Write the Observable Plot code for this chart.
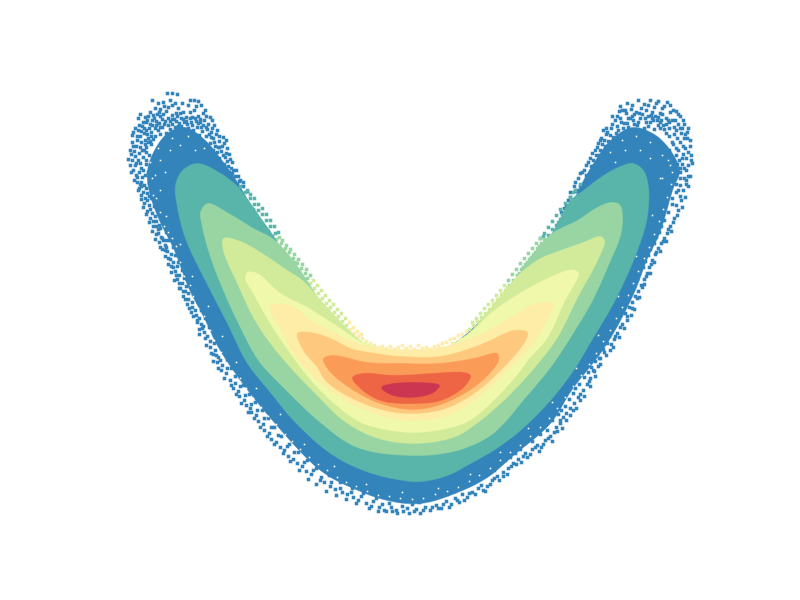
<!DOCTYPE html>
<html><head><meta charset="utf-8">
<style>html,body{margin:0;padding:0;background:#fff}svg{display:block}</style>
<script src="https://cdn.jsdelivr.net/npm/d3@7"></script>
<script src="https://cdn.jsdelivr.net/npm/@observablehq/plot@0.6"></script>
</head><body><div id="chart"></div>
<script>
const levelColors=["#3484bc","#59b4a9","#98d5a3","#d2eb9a","#f0f8ab","#fdeda6","#fec87e","#fa9c58","#ee6545","#cc3650"];
const band0=[147,170,154,150,168,132,185,127,205,140,220,158,232,174,243,192,262,226,305,288,350,340,400,356,450,345,505,292,552,234,572,202,583,180,595,160,610,140,632,127,654,134,670,150,679,170,672,190,659,233,646,260,636,287,620,320,602,350,571,390,550,423,513,455,487,477,457,492,420,503,387,500,353,488,320,470,272,420,240,380,218,347,205,320,188,287,174,250,159,220,149,192];
const band1=[197,163,217,171,235,184,248,200,262,220,272,234,305,288,350,338,400,356,452,346,505,295,552,232,570,200,583,190,603,175,620,166,633,163,643,170,648,187,648,205,645,225,633,260,613,303,593,337,573,370,550,400,520,430,493,450,470,463,447,475,420,481,397,479,363,470,330,453,293,420,270,392,247,363,227,323,210,290,190,250,183,232,177,207,175,185,182,170];
const band2=[207,203,230,214,253,228,272,238,288,254,302,273,325,308,348,333,368,347,400,356,432,354,452,346,470,336,490,314,511,286,523,268,537,248,553,232,577,220,595,208,610,202,619,204,622,215,620,235,610,260,592,300,570,337,550,367,520,403,506,420,490,435,457,450,413,455,357,447,320,422,283,387,258,360,240,327,220,283,208,250,201,222,200,212];
const band3=[223,238,240,241,257,250,287,270,302,280,325,305,348,329,362,341,400,354,432,352,455,342,470,331,488,310,511,282,523,270,540,258,560,250,580,243,600,236,604,240,597,260,577,297,557,337,540,360,520,383,500,403,480,420,455,436,413,443,375,437,343,420,315,393,290,367,270,343,253,317,237,283,223,250];
const band4=[247,272,257,273,280,293,307,307,323,317,343,330,360,341,400,352,440,349,470,332,490,313,513,297,537,283,567,270,575,270,578,273,563,303,547,337,527,360,520,370,495,398,469,420,446,428,413,432,380,428,357,420,320,390,290,353,270,323,253,293,245,278];
const band5=[270,305,290,305,313,322,330,330,347,339,370,346,400,349,440,347,470,338,490,329,510,317,537,303,553,303,550,313,533,343,510,367,480,395,446,415,413,420,380,415,345,400,315,378,293,353,280,328,272,315];
const band6=[297,333,310,332,330,338,350,348,375,353,400,356,440,356,470,348,490,340,513,330,527,332,525,340,507,363,500,370,475,392,445,408,413,413,385,410,350,397,325,380,317,367,303,350];
const band7=[323,358,333,355,367,362,400,363,440,363,473,358,497,353,498,360,490,372,473,387,443,403,413,409,377,402,343,383,327,368];
const band8=[352,377,363,373,393,375,433,373,463,372,470,375,463,387,440,400,410,403,380,400,360,388];
const band9=[381,387,393,383,433,383,439,385,433,392,410,397,390,394];
const blueDots=[
167,93,172,93,177,94,152,100,158,103,163,102,170,100,190,100,194,100,198,101,172,105,188,105,201,105,155,108,140,114,145,117,138,118,153,115,203,113,210,117,133,132,138,130,132,135,132,142,128,159,130,165,
160,109,166,111,178,108,183,112,194,110,150,112,157,114,172,115,186,117,198,116,146,122,152,120,162,119,168,118,176,121,191,122,204,120,142,126,149,128,156,125,164,124,181,126,187,124,197,127,208,124,214,125,137,136,144,133,151,132,158,130,170,129,177,131,193,130,202,131,211,132,217,130,136,146,141,142,148,138,155,136,213,138,219,141,206,136,224,143,134,151,139,153,146,147,151,144,215,146,227,148,221,151,133,170,138,160,143,157,149,155,131,154,225,157,230,159,213,150,228,166,233,170,219,158,136,175,141,168,146,164,137,182,142,177,148,172,152,179,235,176,239,181,229,172,243,186,247,191,
165,121,172,124,183,119,192,125,200,122,145,140,160,134,174,132,199,135,210,143,142,150,136,163,145,175,150,167,141,186,
139,188,144,185,149,183,153,189,141,195,147,193,151,198,155,191,144,203,149,205,154,200,147,211,152,213,157,207,163,206,150,218,156,221,160,215,164,212,153,226,158,229,163,224,169,228,156,234,161,237,166,232,171,231,159,242,165,245,169,240,175,239,162,249,167,251,173,247,178,244,
165,256,170,259,175,255,180,253,168,264,173,267,178,262,184,260,171,272,176,275,182,270,187,268,174,280,179,283,184,278,190,276,180,288,185,291,191,286,194,283,183,296,188,299,193,294,198,291,187,304,192,307,198,302,202,299,191,312,196,315,201,310,206,307,197,320,201,324,205,318,210,315,199,329,204,332,209,327,213,324,205,338,210,341,214,335,218,331,210,347,215,350,219,344,224,340,
213,354,218,357,223,352,227,349,217,362,222,365,227,360,232,356,221,370,226,373,231,368,236,364,230,380,235,383,240,377,244,372,233,388,238,391,243,385,248,383,239,396,244,400,249,394,254,390,246,405,250,408,255,402,260,398,251,412,256,415,262,410,266,406,258,421,263,424,268,418,273,415,264,430,269,433,274,427,279,423,271,439,276,442,281,436,286,432,280,447,284,450,289,444,294,440,
288,456,293,459,298,452,303,449,297,463,302,466,307,460,312,456,306,471,311,474,316,468,321,464,320,480,324,482,329,475,334,470,330,486,335,489,340,482,345,478,342,492,347,494,352,488,357,484,353,497,358,500,363,493,368,489,366,503,371,506,376,498,381,495,379,507,384,510,389,503,394,498,392,511,397,513,402,506,407,500,409,513,414,511,420,513,425,507,412,504,419,502,430,510,436,505,441,508,446,501,427,499,434,498,451,504,457,500,462,494,447,494,454,491,467,497,472,492,478,488,464,486,470,483,483,490,487,486,492,480,480,476,476,480,497,476,503,472,508,468,494,470,499,464,513,463,518,459,510,457,505,460,523,456,527,457,532,449,520,449,515,453,
537,445,541,447,545,440,532,441,550,436,554,432,547,430,540,434,560,423,556,427,552,420,563,417,566,413,558,414,570,408,574,403,565,406,561,410,578,397,583,390,573,393,569,399,587,384,590,378,579,384,575,388,594,371,598,366,588,372,584,377,600,358,604,352,595,361,591,367,610,350,607,343,601,347,597,354,614,339,617,333,609,336,605,341,620,327,627,320,616,323,611,329,625,313,629,307,620,313,617,318,632,302,635,296,626,302,622,307,638,291,642,287,631,291,628,296,644,279,647,273,637,279,633,285,649,267,652,260,643,267,639,273,655,254,658,248,648,255,645,261,661,243,664,238,654,243,650,249,667,233,670,226,659,232,656,237,
674,218,678,210,664,220,661,226,672,204,681,200,668,212,665,206,683,190,686,184,676,192,672,198,688,176,692,163,680,178,676,184,691,155,690,146,684,168,680,172,690,140,687,132,683,154,679,160,683,120,678,114,680,128,674,134,667,102,673,110,662,108,666,118,650,100,656,103,660,113,652,112,644,104,638,100,646,110,636,112,627,103,631,109,622,110,640,118,628,118,650,122,658,125,669,128,672,142,669,150,676,148,617,116,624,123,634,124,644,128,612,124,618,130,626,132,606,128,610,135,603,130,615,140,600,140,605,146,597,147,592,153,599,155,588,162,593,166,584,170,580,173,575,182,580,186,570,197,575,191,566,205,561,212,
164,106,175,103,182,103,159,112,147,120,168,107,180,113,176,113,190,112,196,106,205,110,192,117,200,119,181,118,148,116,154,118,160,116,143,122,139,125,135,128,163,114,170,121,177,116,186,121,206,116,212,120,158,123,152,125,146,130,141,131,137,140,133,146,130,150,135,156,132,160,140,136,144,128,151,136,156,121,162,127,168,125,174,119,179,123,196,121,201,127,207,129,212,128,216,134,219,136,223,137,226,140,222,146,226,153,229,154,232,162,224,164,218,147,231,168,236,170,238,176,240,180,243,182,135,165,131,172,134,180,139,172,137,177,141,182,143,170,146,160,140,163,144,150,148,142,
620,106,625,110,632,105,641,108,648,105,654,107,658,101,664,106,670,105,676,111,680,116,684,124,687,138,688,128,634,114,642,114,655,116,662,114,670,112,675,120,668,120,661,120,648,116,615,120,620,118,611,128,606,134,601,138,598,143,595,150,590,158,586,165,582,172,578,178,608,141,604,140,612,116,638,122,630,118,646,122,653,120,660,128,666,133,676,130,684,138,680,142,685,148,688,152,691,160,688,165,686,170,682,158,676,155,672,160,680,185,684,178,676,175,678,190,673,180,668,172,617,126,623,128,628,127,634,130,574,186,570,192,568,200,564,208,577,190,586,175,593,160,600,150,606,148,
138,190,140,184,143,192,146,188,141,199,145,198,149,196,143,207,147,200,146,214,150,209,154,206,149,222,153,221,152,231,155,216,156,226,155,239,159,225,158,233,162,238,160,228,160,247,163,240,166,240,165,250,166,247,168,258,171,254,171,266,173,262,175,271,177,266,177,279,179,275,179,288,182,283,183,291,186,286,185,299,188,293,189,308,192,302,193,316,195,310,197,322,199,318,199,334,202,328,203,326,206,345,207,336,211,353,214,343,213,361,216,355,218,368,220,360,224,378,227,368,231,385,235,376,236,394,240,386,241,403,245,395,248,412,251,404,254,418,257,410,260,427,264,418,267,436,271,427,274,444,278,435,283,453,287,446,290,461,294,452,299,470,304,462,308,479,313,470,316,484,321,477,326,491,331,482,336,495,340,488,346,499,351,492,356,503,361,496,369,508,373,501,378,511,382,504,386,511,391,507,396,510,403,511,407,508,416,509,423,510,432,507,438,508,443,504,449,507,455,498,459,502,464,500,469,493,475,494,481,485,485,491,490,484,494,478,499,480,503,476,507,474,511,466,516,464,521,462,525,453,530,454,535,447,539,451,543,444,548,438,552,441,557,431,562,428,560,420,566,420,570,415,573,410,576,408,580,400,584,396,580,394,590,386,589,381,595,376,593,370,600,364,599,358,606,355,603,349,611,344,613,347,615,336,619,337,622,324,624,328,627,316,631,315,632,308,634,309,637,298,639,297,641,285,644,284,646,276,650,273,651,264,654,262,656,252,660,251,663,241,666,241,668,229,671,231,673,222,677,215,676,205,682,207,680,196,685,197,688,186,690,176,686,180,
147,134,153,139,160,127,166,133,172,119,178,126,184,122,188,128,195,118,203,125,209,134,214,142,219,147,155,128,150,124,145,144,140,147,146,152,150,141,159,123,175,127,190,118,198,123,206,127,211,137,217,152,223,155,227,161,232,173,237,184,
616,133,621,122,627,123,633,120,639,113,645,118,651,115,657,120,663,125,669,122,674,127,677,138,681,133,683,146,686,158,682,164,673,144,678,150,669,136,664,129,658,117,652,118,613,137,607,132,602,144,596,155,591,166,587,178,632,116,626,113,619,111,637,125,648,126,654,129,660,122,666,124,672,120,678,124,682,128,685,134,677,164,674,170,680,168
];
const gapDots=[152,178,156,198,153,195,160,212,164,226,168,232,176,246,172,238,180,262,184,276,190,285,193,296,198,308,204,316,210,330,214,340,221,352,226,362,232,372,240,378,246,388,253,398,261,407,268,416,276,424,285,434,292,441,300,449,309,457,318,464,327,470,337,477,346,482,356,486,367,491,378,495,389,496,400,498,412,499,423,498,435,494,447,491,458,487,469,481,479,475,490,468,500,460,510,452,520,445,530,436,540,427,549,418,557,408,565,397,573,386,581,375,589,364,596,353,603,341,610,330,616,318,622,307,628,295,633,283,638,271,644,258,649,247,654,234,659,221,663,209,667,197,671,184,672,172,668,160,160,190,166,216,180,244,192,276,208,306,222,336,236,362,256,388,280,414,304,444,334,466,366,484,402,492,438,488,470,474,500,452,528,428,552,402,576,368,598,335,618,296,636,256,652,215,662,178,170,150,180,145,195,150,160,160,165,172,155,175,640,150,650,158,625,150,615,162,660,178,172,138,188,136,204,148,158,148,150,162,622,140,636,136,650,142,662,155,610,152,670,165];
const tealDots=[245,192,250,198,254,204,258,210,262,214,266,220,270,226,256,216,262,224,253,209,275,233,272,236,268,231,562,214,566,209,560,219,556,225,552,229,548,235,571,204,577,197,555,232,545,240,543,236,558,222,573,192,240,186,250,194,254,198,258,204,262,208,266,214,270,220,274,226,278,232,247,190,565,203,560,209,556,215,552,221,548,227,544,233,540,238,570,197,575,190,580,184];
const greenDots=[276,239,281,243,285,248,289,252,293,258,297,263,301,268,305,273,283,250,291,260,299,270,279,246,287,256,295,262,307,278,541,243,537,248,533,254,529,259,525,264,521,269,517,275,513,280,535,252,527,262,519,273,544,239,539,246,531,257,523,267,509,285,282,240,286,245,290,249,294,254,298,259,302,264,306,269,310,275,279,237,536,243,532,248,528,253,524,258,520,263,516,269,512,274,508,280,540,238];
const limeDots=[310,283,314,288,318,293,322,298,326,303,330,307,334,312,338,316,312,291,320,300,328,309,336,318,505,290,501,294,497,299,493,304,489,309,485,313,481,317,477,321,499,302,491,311,483,320,507,287,473,325,342,321,346,325,469,329,313,280,317,285,321,290,325,295,329,300,333,304,337,309,341,313,345,318,504,285,500,290,496,295,492,300,488,304,484,308,480,313,476,318,472,322];
const paleDots=[350,329,354,333,358,336,362,338,366,341,370,343,374,345,378,347,382,346,386,348,390,346,394,349,398,347,402,345,406,348,410,346,414,349,418,345,422,348,426,347,430,349,434,346,438,345,442,343,446,342,450,339,454,338,458,335,462,334,466,331,356,339,364,344,372,348,380,350,392,351,404,350,416,351,428,351,440,348,452,343,460,339,349,322,353,327,357,331,361,334];
const pairs=v=>d3.range(0,v.length,2).map(i=>({x:v[i],y:v[i+1]}));
const bands=[band0,band1,band2,band3,band4,band5,band6,band7,band8,band9];
const sq={x:"x",y:"y",symbol:"square",r:2,stroke:"none"};
const outline=(b,c)=>Plot.line(pairs(b),{x:"x",y:"y",fill:c,stroke:c,strokeWidth:0.5,curve:"catmull-rom-closed"});
const plot=Plot.plot({width:800,height:600,margin:0,
  x:{domain:[0,800],axis:null},y:{domain:[600,0],axis:null},
  marks:[
    outline(bands[0],levelColors[0]),
    Plot.dot(pairs(blueDots),{...sq,fill:levelColors[0]}),
    Plot.dot(pairs(gapDots),{x:"x",y:"y",symbol:"square",r:0.9,fill:"#fff",stroke:"none"}),
    Plot.dot(pairs(tealDots),{...sq,fill:levelColors[1]}),
    Plot.dot(pairs(greenDots),{...sq,fill:levelColors[2]}),
    Plot.dot(pairs(limeDots),{...sq,fill:levelColors[3]}),
    Plot.dot(pairs(paleDots),{...sq,fill:levelColors[5]}),
    ...bands.slice(1).map((b,i)=>outline(b,levelColors[i+1]))
  ]});
document.getElementById("chart").append(plot);
</script></body></html>
